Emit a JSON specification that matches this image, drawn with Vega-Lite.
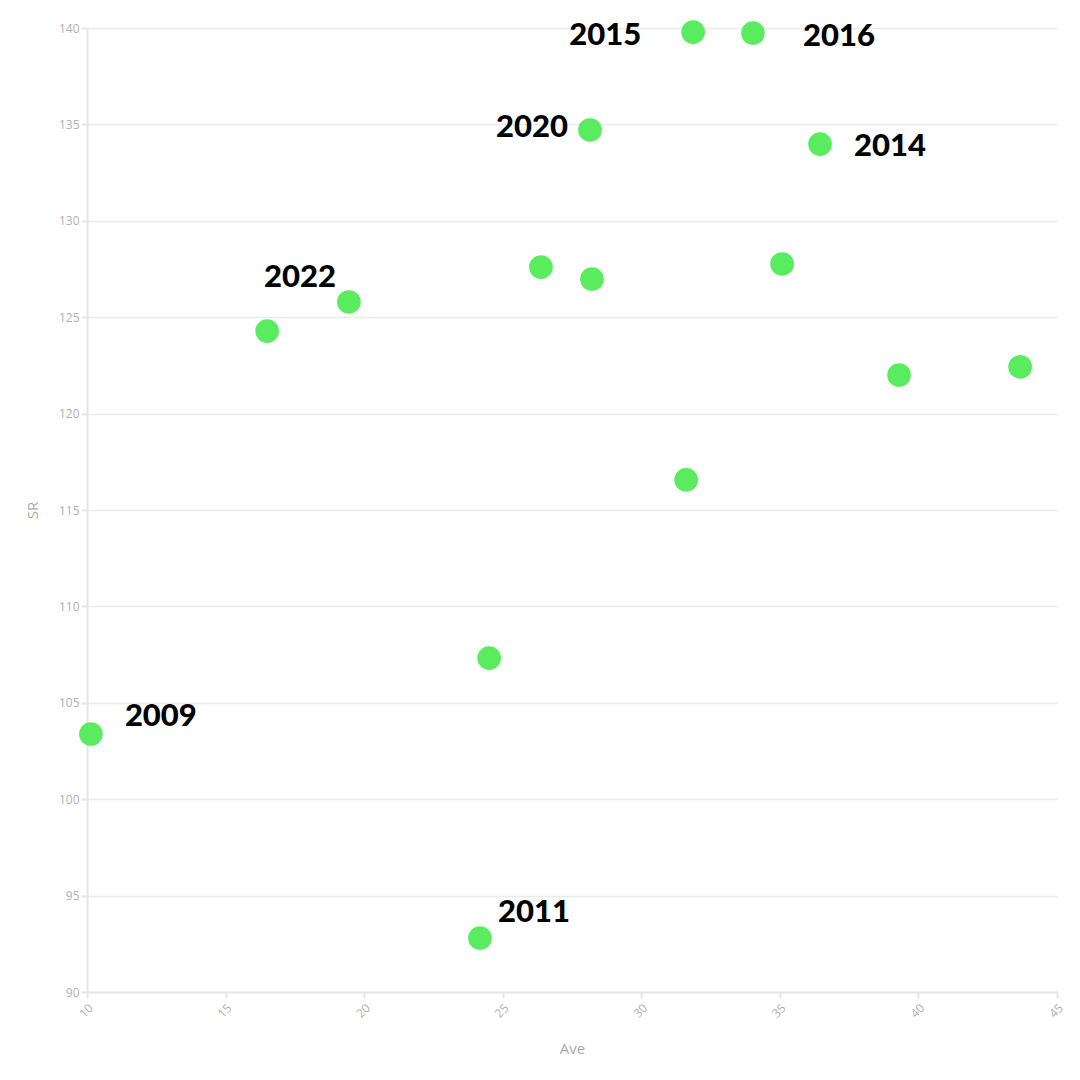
{
  "$schema": "https://vega.github.io/schema/vega-lite/v6.json",
  "width": 970,
  "height": 964,
  "autosize": "none",
  "padding": {"left": 87, "top": 28, "right": 23, "bottom": 88},
  "background": "white",
  "config": {
    "view": {"stroke": null},
    "axis": {
      "gridColor": "#ebebeb",
      "domainColor": "#e6e6e6",
      "tickColor": "#e6e6e6",
      "labelColor": "#b0b0b0",
      "titleColor": "#aaaaaa",
      "labelFont": "Open Sans",
      "titleFont": "Open Sans",
      "labelFontSize": 12,
      "titleFontSize": 15,
      "titleFontWeight": "normal",
      "domainWidth": 2,
      "gridWidth": 1.5,
      "tickWidth": 2,
      "tickSize": 6
    }
  },
  "data": {
    "values": [
      {"Year": 2015, "Ave": 31.87, "SR": 139.79},
      {"Year": 2016, "Ave": 34.03, "SR": 139.74},
      {"Year": 2020, "Ave": 28.15, "SR": 134.71},
      {"Year": 2014, "Ave": 36.45, "SR": 133.98},
      {"Year": 2018, "Ave": 26.38, "SR": 127.6},
      {"Year": 2019, "Ave": 28.22, "SR": 126.98},
      {"Year": 2017, "Ave": 35.08, "SR": 127.76},
      {"Year": 2022, "Ave": 19.45, "SR": 125.79},
      {"Year": 2021, "Ave": 16.5, "SR": 124.28},
      {"Year": 2013, "Ave": 39.3, "SR": 122.0},
      {"Year": 2012, "Ave": 43.67, "SR": 122.42},
      {"Year": 2010, "Ave": 31.62, "SR": 116.56},
      {"Year": 2023, "Ave": 24.51, "SR": 107.32},
      {"Year": 2009, "Ave": 10.14, "SR": 103.38},
      {"Year": 2011, "Ave": 24.18, "SR": 92.8}
    ]
  },
  "encoding": {
    "x": {
      "field": "Ave", "type": "quantitative",
      "scale": {"domain": [10, 45], "nice": false, "zero": false},
      "axis": {"values": [10, 15, 20, 25, 30, 35, 40, 45], "grid": false, "labelAngle": -45, "title": "Ave", "titlePadding": 22, "labelPadding": 4}
    },
    "y": {
      "field": "SR", "type": "quantitative",
      "scale": {"domain": [90, 140], "nice": false, "zero": false},
      "axis": {"values": [90, 95, 100, 105, 110, 115, 120, 125, 130, 135, 140], "title": "SR", "titlePadding": 18}
    }
  },
  "layer": [
    {
      "mark": {"type": "point", "filled": true, "size": 560, "color": "#58ec5e", "opacity": 1, "shape": "circle"}
    },
    {
      "transform": [{"filter": "datum.Year == 2016"}],
      "mark": {"type": "text", "align": "left", "baseline": "middle", "dx": 50, "dy": 4, "font": "Lato", "fontWeight": 900, "fontSize": 31, "color": "black"},
      "encoding": {"text": {"field": "Year", "type": "nominal"}}
    },
    {
      "transform": [{"filter": "datum.Year == 2014"}],
      "mark": {"type": "text", "align": "left", "baseline": "middle", "dx": 34, "dy": 3, "font": "Lato", "fontWeight": 900, "fontSize": 31, "color": "black"},
      "encoding": {"text": {"field": "Year", "type": "nominal"}}
    },
    {
      "transform": [{"filter": "datum.Year == 2009"}],
      "mark": {"type": "text", "align": "left", "baseline": "middle", "dx": 34, "dy": -17, "font": "Lato", "fontWeight": 900, "fontSize": 31, "color": "black"},
      "encoding": {"text": {"field": "Year", "type": "nominal"}}
    },
    {
      "transform": [{"filter": "datum.Year == 2015"}],
      "mark": {"type": "text", "align": "right", "baseline": "middle", "dx": -52, "dy": 4, "font": "Lato", "fontWeight": 900, "fontSize": 31, "color": "black"},
      "encoding": {"text": {"field": "Year", "type": "nominal"}}
    },
    {
      "transform": [{"filter": "datum.Year == 2020"}],
      "mark": {"type": "text", "align": "right", "baseline": "middle", "dx": -22, "dy": -2, "font": "Lato", "fontWeight": 900, "fontSize": 31, "color": "black"},
      "encoding": {"text": {"field": "Year", "type": "nominal"}}
    },
    {
      "transform": [{"filter": "datum.Year == 2022"}],
      "mark": {"type": "text", "align": "center", "baseline": "middle", "dx": -49, "dy": -24, "font": "Lato", "fontWeight": 900, "fontSize": 31, "color": "black"},
      "encoding": {"text": {"field": "Year", "type": "nominal"}}
    },
    {
      "transform": [{"filter": "datum.Year == 2011"}],
      "mark": {"type": "text", "align": "left", "baseline": "middle", "dx": 18, "dy": -25, "font": "Lato", "fontWeight": 900, "fontSize": 31, "color": "black"},
      "encoding": {"text": {"field": "Year", "type": "nominal"}}
    }
  ]
}
